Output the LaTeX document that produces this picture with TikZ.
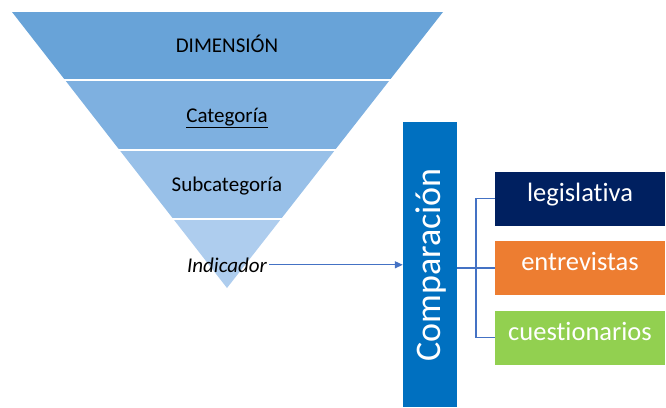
\documentclass[tikz,border=0pt]{standalone}
\usepackage{fontspec}
\setmainfont{Carlito}[Ligatures=NoCommon]
\usetikzlibrary{arrows.meta}
\definecolor{bandA}{HTML}{68A3D8}
\definecolor{bandB}{HTML}{7EB0E0}
\definecolor{bandC}{HTML}{98C0E8}
\definecolor{bandD}{HTML}{AECDEE}
\definecolor{compblue}{HTML}{0070C0}
\definecolor{navy}{HTML}{002060}
\definecolor{orng}{HTML}{ED7D31}
\definecolor{grn}{HTML}{92D050}
\definecolor{conn}{HTML}{4472C4}
\tikzset{
  lvl/.style={anchor=base, inner sep=0pt, font=\fontsize{21}{25}\selectfont, text=black},
  srcbox/.style={minimum width=170pt, minimum height=54pt, inner sep=0pt, text=white,
    font=\fontsize{26.5}{30}\selectfont, text height=0.7em, text depth=0.2em},
  link/.style={draw=conn, line width=1.2pt},
  sep/.style={draw=white, line width=2.5pt}
}
\begin{document}
\begin{tikzpicture}[x=1pt,y=-1pt]
\useasboundingbox (0,0) rectangle (666,407);
% funnel bands
\fill[bandA] (12,12) -- (443,12) -- (389.8,80) -- (65,80) -- cycle;
\fill[bandB] (65,80) -- (389.8,80) -- (335,150) -- (119.5,150) -- cycle;
\fill[bandC] (119.5,150) -- (335,150) -- (281,219) -- (173.3,219) -- cycle;
\fill[bandD] (173.3,219) -- (281,219) -- (227,288) -- cycle;
\draw[sep] (60,80) -- (395,80);
\draw[sep] (114,150) -- (340,150);
\draw[sep] (168,219) -- (286,219);
% labels
\node[lvl] (dim) at (227,52) {DIMENSIÓN};
\node[lvl] (cat) at (227,122) {\underline{Categoría}};
\node[lvl] (sub) at (227,191) {Subcategoría};
\node[lvl, font=\fontsize{21}{25}\selectfont\itshape] (ind) at (227,272) {Indicador};
% comparison box
\node[fill=compblue, minimum width=54pt, minimum height=285pt, inner sep=0pt] (comp) at (430,264.5) {};
\node[rotate=90, text=white, font=\fontsize{36}{40}\selectfont, inner sep=0pt] (comptxt) at (431,265) {Comparación};
% source boxes
\node[srcbox, fill=navy] (leg) at (580,198.5) {legislativa};
\node[srcbox, fill=orng] (ent) at (580,268) {entrevistas};
\node[srcbox, fill=grn] (cue) at (580,337.5) {cuestionarios};
% connectors
\coordinate (bx) at (476,268);
\draw[link, -{Triangle[length=8pt,width=7pt]}] ([xshift=2pt]ind.east) -- (comp.west |- ind.east);
\draw[link] (comp.east |- ent.west) -- (ent.west);
\draw[link] (leg.west) -- (leg.west -| bx) -- (cue.west -| bx) -- (cue.west);
\end{tikzpicture}
\end{document}
